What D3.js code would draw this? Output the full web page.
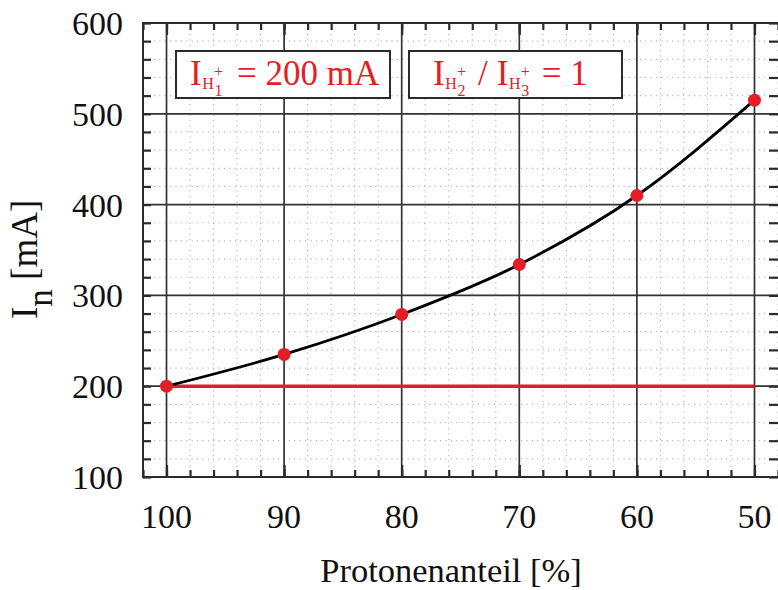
<!DOCTYPE html>
<html>
<head>
<meta charset="utf-8">
<script src="https://cdn.jsdelivr.net/npm/d3@7"></script>
<style>
  html, body { margin: 0; padding: 0; background: #fff; }
  svg { display: block; }
  text { font-family: "Liberation Serif", "Times New Roman", serif; }
</style>
</head>
<body>
<svg id="chart" width="778" height="590"></svg>
<script>
// Proton fraction of the beam [%] and the resulting total current I_n [mA]
const protonShare = [100, 90, 80, 70, 60, 50];
const totalCurrent = [200, 235, 279, 334, 410, 515];
// H1+ current held constant
const protonCurrent = [200, 200, 200, 200, 200, 200];

const xTickValues = [100, 90, 80, 70, 60, 50];
const yTickValues = [100, 200, 300, 400, 500, 600];
const xMinorValues = d3.range(102, 47, -2);
const yMinorValues = d3.range(100, 601, 20);

const red = "#e31e27";
const frame = "#2b2b2b";

const svg = d3.select("#chart");
const plotLeft = 143, plotRight = 778, plotTop = 23, plotBottom = 477;

const x = d3.scaleLinear().domain([102, 48]).range([plotLeft, plotRight]);
const y = d3.scaleLinear().domain([100, 600]).range([plotBottom, plotTop]);

// minor dotted grid
const grid = svg.append("g");
grid.selectAll("line.vminor").data(xMinorValues.filter(v => !xTickValues.includes(v)))
  .join("line").attr("class", "vminor")
  .attr("x1", d => x(d)).attr("x2", d => x(d))
  .attr("y1", plotTop).attr("y2", plotBottom)
  .attr("stroke", "#b8b8b8").attr("stroke-width", 1.2).attr("stroke-dasharray", "1.2,4.2");
grid.selectAll("line.hminor").data(yMinorValues.filter(v => !yTickValues.includes(v)))
  .join("line").attr("class", "hminor")
  .attr("x1", plotLeft).attr("x2", plotRight)
  .attr("y1", d => y(d)).attr("y2", d => y(d))
  .attr("stroke", "#b8b8b8").attr("stroke-width", 1.2).attr("stroke-dasharray", "1.2,4.2");

// major solid grid
grid.selectAll("line.vmajor").data(xTickValues)
  .join("line").attr("class", "vmajor")
  .attr("x1", d => x(d)).attr("x2", d => x(d))
  .attr("y1", plotTop).attr("y2", plotBottom)
  .attr("stroke", "#333").attr("stroke-width", 1.7);
grid.selectAll("line.hmajor").data(yTickValues.slice(1, -1))
  .join("line").attr("class", "hmajor")
  .attr("x1", plotLeft).attr("x2", plotRight)
  .attr("y1", d => y(d)).attr("y2", d => y(d))
  .attr("stroke", "#333").attr("stroke-width", 1.7);

// inward ticks on all four sides, via d3 axes
const tickStyle = g => {
  g.select(".domain").remove();
  g.selectAll(".tick line").attr("stroke", frame).attr("stroke-width", 2.2);
  g.selectAll(".tick text").remove();
};
svg.append("g").attr("transform", `translate(0,${plotBottom})`)
  .call(d3.axisTop(x).tickValues(xMinorValues).tickSize(7)).call(tickStyle);
svg.append("g").attr("transform", `translate(0,${plotBottom})`)
  .call(d3.axisTop(x).tickValues(xTickValues).tickSize(12)).call(tickStyle);
svg.append("g").attr("transform", `translate(0,${plotTop})`)
  .call(d3.axisBottom(x).tickValues(xMinorValues).tickSize(7)).call(tickStyle);
svg.append("g").attr("transform", `translate(0,${plotTop})`)
  .call(d3.axisBottom(x).tickValues(xTickValues).tickSize(12)).call(tickStyle);
svg.append("g").attr("transform", `translate(${plotLeft},0)`)
  .call(d3.axisRight(y).tickValues(yMinorValues).tickSize(8)).call(tickStyle);
svg.append("g").attr("transform", `translate(${plotRight},0)`)
  .call(d3.axisLeft(y).tickValues(yMinorValues).tickSize(9)).call(tickStyle);

// frame
svg.append("rect")
  .attr("x", plotLeft).attr("y", plotTop)
  .attr("width", plotRight - plotLeft + 1).attr("height", plotBottom - plotTop)
  .attr("fill", "none").attr("stroke", frame).attr("stroke-width", 2);

// tick labels
svg.append("g").selectAll("text").data(xTickValues).join("text")
  .attr("x", d => x(d)).attr("y", 528)
  .attr("text-anchor", "middle").attr("font-size", 34).attr("fill", "#111")
  .text(d => d);
svg.append("g").selectAll("text").data(yTickValues).join("text")
  .attr("x", 123).attr("y", d => y(d) + 12)
  .attr("text-anchor", "end").attr("font-size", 34).attr("fill", "#111")
  .text(d => d);

// axis titles
svg.append("text")
  .attr("x", 451).attr("y", 582)
  .attr("text-anchor", "middle").attr("font-size", 34.5).attr("fill", "#111")
  .text("Protonenanteil [%]");

const yTitle = svg.append("text")
  .attr("transform", "translate(37,319) rotate(-90)")
  .attr("text-anchor", "start").attr("font-size", 37).attr("fill", "#111")
  .style("white-space", "pre");
yTitle.append("tspan").text("I");
yTitle.append("tspan").attr("dy", 15).attr("font-size", 35).text("n");
yTitle.append("tspan").attr("dy", -15).text(" [mA]");

// data: constant H1+ current and total current
const pts = protonShare.map((p, i) => ({ p, v: totalCurrent[i], h: protonCurrent[i] }));

svg.append("path").datum(pts)
  .attr("fill", "none").attr("stroke", red).attr("stroke-width", 3.4)
  .attr("d", d3.line().x(d => x(d.p)).y(d => y(d.h)));

svg.append("path").datum(pts)
  .attr("fill", "none").attr("stroke", "#000").attr("stroke-width", 2.8)
  .attr("d", d3.line().x(d => x(d.p)).y(d => y(d.v)).curve(d3.curveMonotoneX));

svg.append("g").selectAll("circle").data(pts).join("circle")
  .attr("cx", d => x(d.p)).attr("cy", d => y(d.v)).attr("r", 6.5)
  .attr("fill", red);

// annotation boxes with ion current formulas, each written as one text element
function box(x0, y0, w, h) {
  svg.append("rect").attr("x", x0).attr("y", y0).attr("width", w).attr("height", h)
    .attr("fill", "#fff").attr("stroke", frame).attr("stroke-width", 2);
}

function span(t, cx, cy, size, str) {
  const s = t.append("tspan").attr("x", cx).attr("y", cy).attr("font-size", size).text(str);
  return s.node().getComputedTextLength();
}

// I with subscript H, ion number below and "+" above
function ionCurrent(t, x0, y0, ion) {
  let cx = x0;
  cx += span(t, cx, y0, 35, "I") + 0.5;
  cx += span(t, cx, y0 + 4, 16, "H") + 0.3;
  const wSup = span(t, cx, y0 - 8, 16, "+");
  const wSub = span(t, cx + 0.5, y0 + 10.5, 16, ion);
  return cx + Math.max(wSup, wSub);
}

box(176, 51, 214, 47);
box(409, 51, 213, 47);

const baseY = 85;

const note1 = svg.append("text").attr("fill", red).style("white-space", "pre");
let ex = ionCurrent(note1, 190, baseY, "1");
span(note1, ex + 14, baseY, 35, "= 200 mA");

const note2 = svg.append("text").attr("fill", red).style("white-space", "pre");
ex = ionCurrent(note2, 433, baseY, "2");
ex += 12;
ex += span(note2, ex, baseY, 35, "/") + 9;
ex = ionCurrent(note2, ex, baseY, "3");
span(note2, ex + 12, baseY, 35, "= 1");
</script>
</body>
</html>
